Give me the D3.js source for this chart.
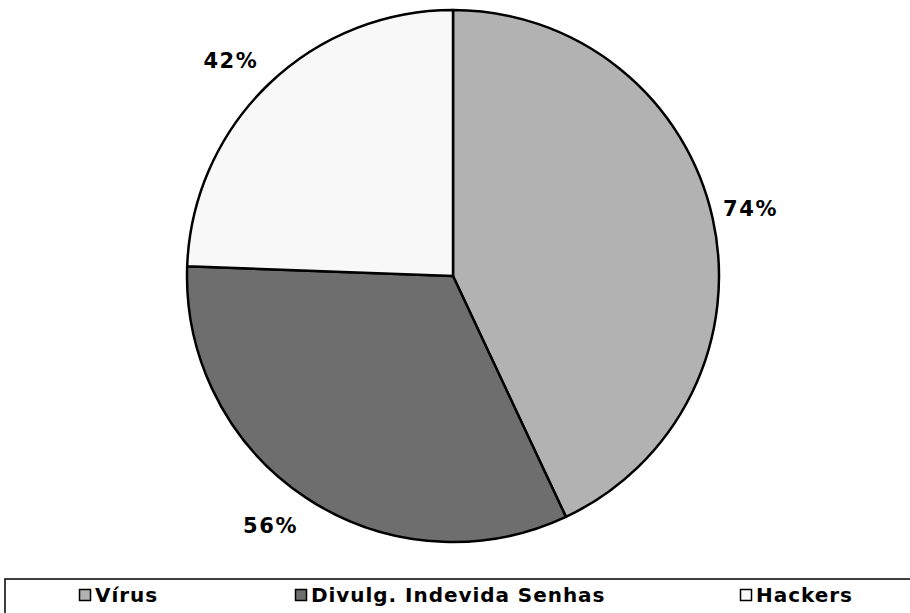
<!DOCTYPE html>
<html>
<head>
<meta charset="utf-8">
<script src="https://cdn.jsdelivr.net/npm/d3@7"></script>
<style>
  body { margin: 0; background: #fff; }
  svg { display: block; }
</style>
</head>
<body>
<div id="chart-area"></div>
<script>
  const categories = ["Vírus", "Divulg. Indevida Senhas", "Hackers"];
  const values = [74, 56, 42];
  const colors = ["#b2b2b2", "#6e6e6e", "#f8f8f8"];

  const width = 910, height = 613;
  const cx = 453, cy = 276, radius = 266;

  const svg = d3.select('#chart-area').append('svg')
    .attr('width', width)
    .attr('height', height);

  const data = categories.map((c, i) => ({ name: c, value: values[i], color: colors[i] }));

  const pie = d3.pie().value(d => d.value).sort(null);
  const arc = d3.arc().innerRadius(0).outerRadius(radius);
  const labelArc = d3.arc().innerRadius(307).outerRadius(307);
  // small nudges so the labels sit where the original put them
  const labelNudge = [[-2, -1], [-13, -7], [-9, 5]];

  const g = svg.append('g').attr('transform', `translate(${cx},${cy})`);

  const arcs = pie(data);

  g.selectAll('path')
    .data(arcs)
    .enter()
    .append('path')
      .attr('d', arc)
      .attr('fill', d => d.data.color)
      .attr('stroke', '#000')
      .attr('stroke-width', 2.5)
      .attr('stroke-linejoin', 'round');

  g.selectAll('text.pct')
    .data(arcs)
    .enter()
    .append('text')
      .attr('class', 'pct')
      .attr('transform', (d, i) => {
        const c = labelArc.centroid(d);
        return `translate(${c[0] + labelNudge[i][0]},${c[1] + labelNudge[i][1]})`;
      })
      .attr('text-anchor', 'middle')
      .attr('dy', '0.36em')
      .style('font-family', 'DejaVu Sans, Verdana, sans-serif')
      .style('font-weight', 'bold')
      .style('font-size', '21px')
      .style('letter-spacing', '1.6px')
      .text(d => d.data.value + '%');

  // legend
  svg.append('rect')
    .attr('x', 5)
    .attr('y', 579)
    .attr('width', 920)
    .attr('height', 60)
    .attr('fill', '#fff')
    .attr('stroke', '#000')
    .attr('stroke-width', 1.5);

  const legendX = [79, 295, 740];
  const legend = svg.selectAll('g.leg')
    .data(data)
    .enter()
    .append('g')
      .attr('class', 'leg')
      .attr('transform', (d, i) => `translate(${legendX[i]},595)`);

  legend.append('rect')
    .attr('x', 0.5)
    .attr('y', -5.5)
    .attr('width', 11)
    .attr('height', 11)
    .attr('fill', d => d.color)
    .attr('stroke', '#000')
    .attr('stroke-width', 1.5);

  legend.append('text')
    .attr('x', 16)
    .attr('dy', '0.36em')
    .style('font-family', 'DejaVu Sans, Verdana, sans-serif')
    .style('font-weight', 'bold')
    .style('font-size', '20px')
    .style('letter-spacing', '0.95px')
    .text(d => d.name);
</script>
</body>
</html>
